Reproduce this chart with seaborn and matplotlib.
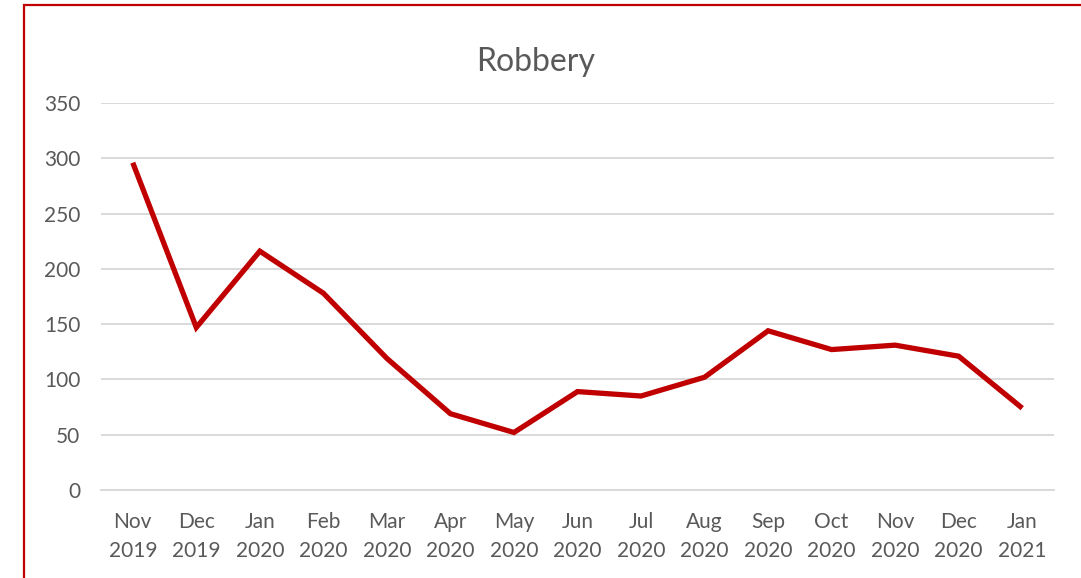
import matplotlib
matplotlib.use('Agg')
import matplotlib.pyplot as plt
import seaborn as sns
import pandas as pd
import numpy as np
from matplotlib.patches import Rectangle

sns.set_style('white')
plt.rcParams['font.family'] = ['Lato', 'DejaVu Sans']

# Data
months = ['Nov\n2019', 'Dec\n2019', 'Jan\n2020', 'Feb\n2020', 'Mar\n2020',
          'Apr\n2020', 'May\n2020', 'Jun\n2020', 'Jul\n2020', 'Aug\n2020',
          'Sep\n2020', 'Oct\n2020', 'Nov\n2020', 'Dec\n2020', 'Jan\n2021']
robbery = [296, 147, 216, 178, 119, 69, 52, 89, 85, 102, 144, 127, 131, 121, 74]

df = pd.DataFrame({'pos': np.arange(len(months)), 'count': robbery})

W, H = 1081, 578
fig = plt.figure(figsize=(W/100, H/100), dpi=100)
ax = fig.add_axes([101/W, 1 - 490/H, (1054 - 101)/W, (490 - 103)/H])

grey = '#D9D9D9'
text_c = '#595959'

sns.lineplot(data=df, x='pos', y='count', ax=ax, color='#C00000', linewidth=3.8,
             solid_joinstyle='miter', solid_capstyle='butt')

ax.set_xlim(-0.5, len(months) - 0.5)
ax.set_ylim(0, 350)
ax.set_yticks(range(0, 351, 50))
ax.yaxis.grid(True, color=grey, linewidth=1.4)
ax.set_axisbelow(True)

ax.set_xticks(np.arange(len(months)))
ax.set_xticklabels(months, color=text_c, fontsize=15, linespacing=1.55)
ax.set_xticks(np.arange(-0.5, len(months)), minor=True)
ax.tick_params(axis='x', which='major', length=0, pad=16)
ax.tick_params(axis='x', which='minor', length=8, width=1.4, color=grey, direction='out')
ax.tick_params(axis='y', length=0, pad=15, labelcolor=text_c, labelsize=15)

for s in ['top', 'right', 'left']:
    ax.spines[s].set_visible(False)
ax.spines['bottom'].set_color(grey)
ax.spines['bottom'].set_linewidth(1.4)
ax.set_xlabel('')
ax.set_ylabel('')

fig.text(536/W, 1 - 62/H, 'Robbery', ha='center', va='center', fontsize=23, color=text_c)

# outer chart border (cropped at right/bottom)
fig.patches.append(Rectangle((24/W, -0.05), 1.2, 1 - 5/H + 0.05, transform=fig.transFigure,
                             fill=False, edgecolor='#C00000', linewidth=1.6))

fig.savefig('out.png', dpi=100)
